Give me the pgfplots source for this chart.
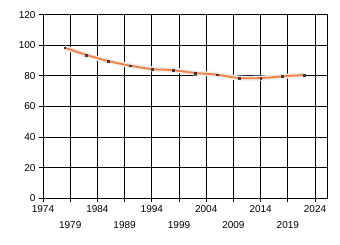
\documentclass[border=0pt]{standalone}
\usepackage{fontspec}
\setmainfont{Liberation Sans}
\usepackage{pgfplots}
\pgfplotsset{compat=1.18}
\definecolor{lineorange}{RGB}{250,125,60}
\definecolor{glow}{RGB}{235,235,235}
\definecolor{markgray}{RGB}{60,60,60}
\pgfplotstableread{
year value
1978 98.4
1982 93.7
1986 89.7
1990 86.7
1994 84.5
1998 83.7
2002 81.9
2006 80.8
2010 78.6
2014 78.6
2018 79.7
2022 80.6
}\datatable
\begin{document}
\fontsize{10bp}{12bp}\selectfont
\begin{tikzpicture}
\path[use as bounding box] (0,0) rectangle (340bp,245bp);
\begin{axis}[
 at={(43bp,46.7bp)}, anchor=south west, scale only axis,
 width=284bp, height=183.6bp,
 xmin=1974, xmax=2026.2, ymin=0, ymax=120,
 xtick={1974,1984,...,2024},
 extra x ticks={1979,1989,...,2019},
 extra x tick style={xticklabel style={yshift=-15.6bp}, grid=major},
 ytick={0,20,...,120},
 grid=major, grid style={black, line width=0.8bp},
 axis line style={black, line width=0.8bp},
 tick style={black, line width=0.8bp},
 tick align=outside, major tick length=4bp,
 xtick pos=left, ytick pos=left,
 tick label style={font=\fontsize{10bp}{12bp}\selectfont},
 /pgf/number format/assume math mode=true,
 /pgf/number format/1000 sep={},
]
\addplot[glow, line width=5bp, smooth, no markers] table[x=year,y=value] {\datatable};
\addplot[lineorange, line width=1.8bp, smooth, no markers] table[x=year,y=value] {\datatable};
\addplot[only marks, mark=square*, mark size=0.9bp, markgray] table[x=year,y=value] {\datatable};
\end{axis}
\end{tikzpicture}
\end{document}
